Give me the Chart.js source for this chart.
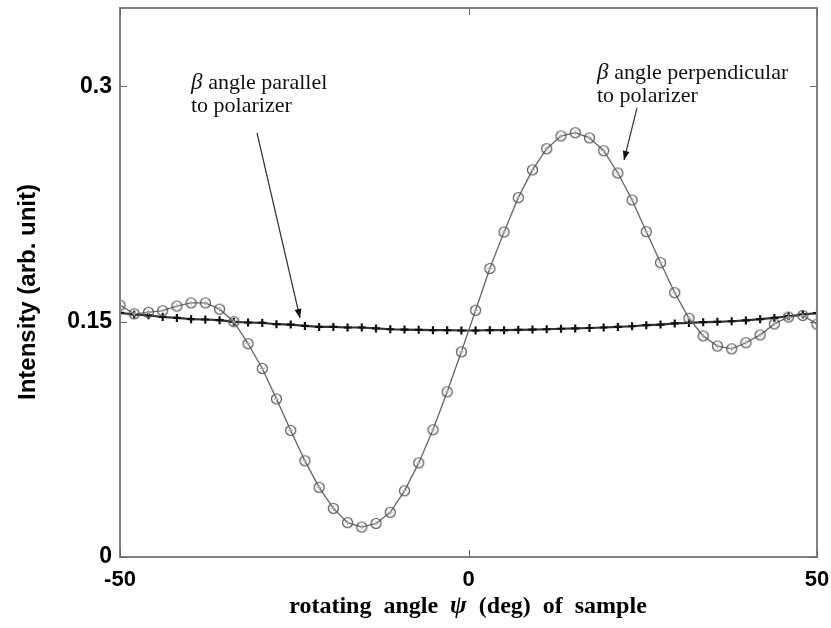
<!DOCTYPE html>
<html>
<head>
<meta charset="utf-8">
<script src="https://cdn.jsdelivr.net/npm/chart.js@4.4.0/dist/chart.umd.min.js"></script>
<style>
html, body { margin: 0; padding: 0; background: #fff; }
#wrap { width: 831px; height: 628px; }
</style>
</head>
<body>
<div id="wrap"><canvas id="chart" width="831" height="628"></canvas></div>
<script>
// angoli campionati (deg)
var angles = [-50, -47.96, -45.92, -43.88, -41.84, -39.80, -37.76, -35.71, -33.67, -31.63,
              -29.59, -27.55, -25.51, -23.47, -21.43, -19.39, -17.35, -15.31, -13.27, -11.22,
              -9.18, -7.14, -5.10, -3.06, -1.02, 1.02, 3.06, 5.10, 7.14, 9.18,
              11.22, 13.27, 15.31, 17.35, 19.39, 21.43, 23.47, 25.51, 27.55, 29.59,
              31.63, 33.67, 35.71, 37.76, 39.80, 41.84, 43.88, 45.92, 47.96, 50];

// beta perpendicolare (cerchi)
var perpendicular = [0.1605, 0.155, 0.156, 0.157, 0.160, 0.162, 0.162, 0.158, 0.150, 0.136,
                     0.1202, 0.1008, 0.0807, 0.0613, 0.0444, 0.031, 0.0219, 0.0191, 0.0214, 0.0285,
                     0.0422, 0.060, 0.0811, 0.1053, 0.1308, 0.1573, 0.1839, 0.2072, 0.2291, 0.2468,
                     0.2603, 0.2684, 0.2705, 0.2672, 0.2590, 0.2448, 0.2276, 0.2074, 0.1876, 0.1685,
                     0.1522, 0.1409, 0.1345, 0.1327, 0.1366, 0.1416, 0.1486, 0.153, 0.1540, 0.1485];

// beta parallelo (croci)
var parallel = [0.1557, 0.1546, 0.1541, 0.153, 0.1524, 0.1516, 0.1514, 0.151, 0.1499, 0.1495,
                0.1492, 0.1484, 0.1482, 0.1473, 0.1467, 0.1467, 0.1463, 0.1463, 0.1457, 0.1452,
                0.145, 0.1448, 0.1446, 0.1446, 0.1444, 0.1444, 0.1446, 0.1446, 0.1448, 0.145,
                0.1452, 0.1455, 0.1457, 0.146, 0.1463, 0.1467, 0.1471, 0.1478, 0.1482, 0.1489,
                0.1492, 0.1497, 0.1499, 0.1503, 0.1508, 0.1516, 0.1524, 0.1535, 0.1546, 0.1555];

var xTicks = [-50, 0, 50];
var yTicks = [0, 0.15, 0.3];
var yLabels = ['0', '0.15', '0.3'];

function toPoints(ys) {
    var out = [];
    for (var i = 0; i < angles.length; i++) out.push({x: angles[i], y: ys[i]});
    return out;
}

// marcatore cerchio con crocetta interna
function circleMarker() {
    var c = document.createElement('canvas');
    c.width = 13; c.height = 13;
    var g = c.getContext('2d');
    g.strokeStyle = '#555';
    g.lineWidth = 1.2;
    g.beginPath();
    g.arc(6.5, 6.5, 5, 0, Math.PI * 2);
    g.stroke();
    g.strokeStyle = '#aaa';
    g.lineWidth = 1;
    g.beginPath();
    g.moveTo(6.5, 4); g.lineTo(6.5, 9);
    g.moveTo(4, 6.5); g.lineTo(9, 6.5);
    g.stroke();
    return c;
}

// cornice, tacche interne, titoli e frecce
var decor = {
    id: 'decor',
    afterDraw: function (chart) {
        var ctx = chart.ctx;
        var a = chart.chartArea;
        var xs = chart.scales.x, ys = chart.scales.y;
        ctx.save();
        ctx.strokeStyle = '#808080';
        ctx.lineWidth = 2;
        ctx.strokeRect(a.left, a.top, a.right - a.left, a.bottom - a.top);
        ctx.lineWidth = 1;
        ctx.strokeStyle = '#666';
        ctx.beginPath();
        xTicks.forEach(function (v) {
            var px = Math.round(xs.getPixelForValue(v)) + 0.5;
            ctx.moveTo(px, a.bottom); ctx.lineTo(px, a.bottom - 7);
            ctx.moveTo(px, a.top); ctx.lineTo(px, a.top + 7);
        });
        yTicks.forEach(function (v) {
            var py = Math.round(ys.getPixelForValue(v)) + 0.5;
            ctx.moveTo(a.left, py); ctx.lineTo(a.left + 7, py);
            ctx.moveTo(a.right, py); ctx.lineTo(a.right - 7, py);
        });
        ctx.stroke();

        // titolo asse y
        ctx.fillStyle = '#000';
        ctx.font = 'bold 24px "Liberation Sans", Arial, sans-serif';
        ctx.textAlign = 'center';
        ctx.textBaseline = 'middle';
        ctx.save();
        ctx.translate(28, 292);
        ctx.rotate(-Math.PI / 2);
        ctx.fillText('Intensity (arb. unit)', 0, 0);
        ctx.restore();

        // titolo asse x con psi in corsivo
        var parts = [
            ['rotating  angle  ', 'bold 24px "Liberation Serif", "Times New Roman", serif'],
            ['\u03c8', 'bold italic 25px "Liberation Serif", "Times New Roman", serif'],
            ['  (deg)  of  sample', 'bold 24px "Liberation Serif", "Times New Roman", serif']
        ];
        var total = 0;
        parts.forEach(function (p) { ctx.font = p[1]; total += ctx.measureText(p[0]).width; });
        var cx = 468 - total / 2;
        ctx.textAlign = 'left';
        parts.forEach(function (p) {
            ctx.font = p[1];
            ctx.fillText(p[0], cx, 607);
            cx += ctx.measureText(p[0]).width;
        });

        // annotazioni
        drawNote(ctx, 191, 83, 'angle parallel', 'to polarizer');
        drawNote(ctx, 597, 73, 'angle perpendicular', 'to polarizer');
        drawArrow(ctx, 257, 133, 300, 318);
        drawArrow(ctx, 637, 108, 624, 160);
        ctx.restore();
    }
};

function drawNote(ctx, x, y, line1, line2) {
    ctx.fillStyle = '#111';
    ctx.textAlign = 'left';
    ctx.textBaseline = 'middle';
    ctx.font = 'italic 23px "Liberation Serif", "Times New Roman", serif';
    ctx.fillText('\u03b2', x, y);
    var w = ctx.measureText('\u03b2 ').width;
    ctx.font = '22px "Liberation Serif", "Times New Roman", serif';
    ctx.fillText(line1, x + w, y);
    ctx.fillText(line2, x, y + 23);
}

function drawArrow(ctx, x1, y1, x2, y2) {
    var ang = Math.atan2(y2 - y1, x2 - x1);
    ctx.strokeStyle = '#333';
    ctx.fillStyle = '#111';
    ctx.lineWidth = 1.2;
    ctx.beginPath();
    ctx.moveTo(x1, y1);
    ctx.lineTo(x2, y2);
    ctx.stroke();
    ctx.beginPath();
    ctx.moveTo(x2, y2);
    ctx.lineTo(x2 - 9 * Math.cos(ang) + 3.5 * Math.sin(ang), y2 - 9 * Math.sin(ang) - 3.5 * Math.cos(ang));
    ctx.lineTo(x2 - 9 * Math.cos(ang) - 3.5 * Math.sin(ang), y2 - 9 * Math.sin(ang) + 3.5 * Math.cos(ang));
    ctx.closePath();
    ctx.fill();
}

var ctx = document.getElementById('chart');
var chart = new Chart(ctx, {
    type: 'line',
    data: {
        datasets: [{
            label: 'beta perpendicular',
            data: toPoints(perpendicular),
            borderColor: '#666',
            borderWidth: 1.3,
            pointStyle: circleMarker(),
            pointRadius: 5,
            tension: 0
        }, {
            label: 'beta parallel',
            data: toPoints(parallel),
            borderColor: '#333',
            borderWidth: 2.2,
            pointStyle: 'cross',
            pointRadius: 4,
            pointBorderWidth: 2.2,
            pointBorderColor: '#111',
            tension: 0
        }]
    },
    options: {
        responsive: false,
        animation: false,
        layout: { padding: { left: 0, right: 14, top: 8, bottom: 0 } },
        plugins: { legend: { display: false }, tooltip: { enabled: false } },
        scales: {
            x: {
                type: 'linear',
                min: -50,
                max: 50,
                afterBuildTicks: function (s) { s.ticks = xTicks.map(function (v) { return {value: v}; }); },
                afterFit: function (s) { s.height = 71; s.paddingLeft = 0; s.paddingRight = 0; },
                grid: { display: false, drawTicks: false },
                border: { display: false },
                ticks: {
                    color: '#000',
                    padding: 10,
                    maxRotation: 0,
                    font: { family: '"Liberation Sans", Arial, sans-serif', size: 22, weight: 'bold' }
                }
            },
            y: {
                min: 0,
                max: 0.35,
                afterBuildTicks: function (s) { s.ticks = yTicks.map(function (v) { return {value: v}; }); },
                afterFit: function (s) { s.width = 120; s.paddingTop = 0; s.paddingBottom = 0; },
                grid: { display: false, drawTicks: false },
                border: { display: false },
                ticks: {
                    color: '#000',
                    padding: 8,
                    font: { family: '"Liberation Sans", Arial, sans-serif', size: 23, weight: 'bold' },
                    callback: function (v) {
                        var i = yTicks.indexOf(v);
                        return i >= 0 ? yLabels[i] : '';
                    }
                }
            }
        }
    },
    plugins: [decor]
});
</script>
</body>
</html>
